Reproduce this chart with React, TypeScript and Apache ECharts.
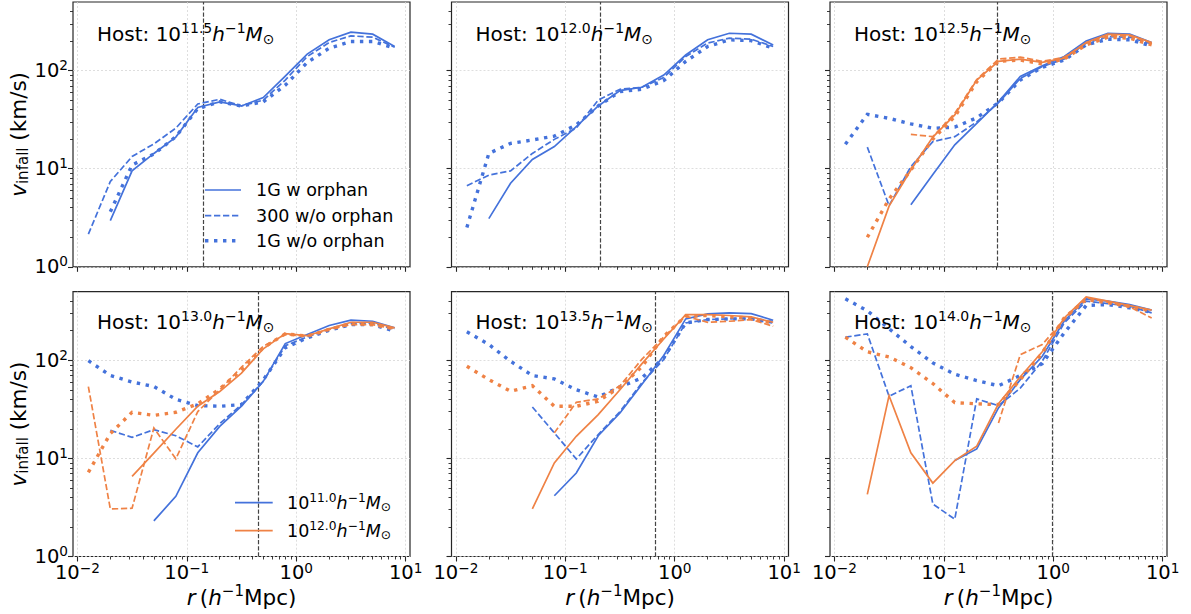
import React, { useEffect, useRef } from 'react';
import * as echarts from 'echarts';

// ---------------- data ----------------
// radial bins (h^-1 Mpc)
const R = [0.0126, 0.02, 0.0316, 0.05, 0.0794, 0.126, 0.2, 0.316, 0.5, 0.794, 1.26, 2.0, 3.16, 5.0, 7.94];

const hostMasses = ['11.5', '12.0', '12.5', '13.0', '13.5', '14.0'];
const rVir = [0.142, 0.208, 0.306, 0.452, 0.665, 0.98];

const XTICKS = [0.01, 0.1, 1, 10];
const YTICKS = [1, 10, 100];

// Host 10^11.5 (sub-halo bin 10^11.0 only)
const h115_b_1Gw = [null, 2.95, 9.5, 14.3, 21, 42, 48, 43.6, 53, 88, 147, 206, 246, 235, 176];
const h115_b_300wo = [2.15, 7.4, 13.3, 17.9, 25.9, 45.7, 51, 43.6, 50, 80, 139, 193, 226, 219, 173];
const h115_b_1Gwo = [null, 3.64, 10.9, 14.1, 21.2, 41, 48, 43.6, 48, 71, 121, 169, 198, 198, 169];

// Host 10^12.0
const h120_b_1Gw = [null, 3.1, 7.1, 12.4, 16.8, 26.8, 43.6, 62.5, 67.6, 90, 144, 206, 240, 235, 182];
const h120_b_300wo = [6.7, 8.6, 9.5, 14.3, 19.9, 25.9, 50, 64.5, 67.6, 85, 139, 191, 214, 209, 176];
const h120_b_1Gwo = [2.52, 14.3, 18.1, 19.6, 21.5, 27.9, 43.6, 61, 64.5, 79, 124, 176, 206, 202, 169];

// Host 10^12.5
const h125_b_1Gw = [null, null, null, 4.3, 8.7, 17.5, 29, 48, 87, 112, 139, 200, 240, 235, 193];
const h125_b_300wo = [null, 16.6, 4.2, 10.5, 18.9, 21.2, 30, 47, 83, 110, 131, 191, 222, 219, 187];
const h125_b_1Gwo = [17.7, 35.8, 32.6, 28.6, 25.8, 26.5, 33, 47, 80, 108, 128, 183, 209, 206, 178];
const h125_o_1Gw = [null, 1.0, 4.15, 9.7, 21, 35.3, 80, 124, 131, 121, 134, 193, 235, 231, 193];
const h125_o_300wo = [null, null, null, 22.4, 21.2, 36.7, 81, 131, 137, 124, 137, 191, 226, 226, 191];
const h125_o_1Gwo = [null, 2.0, 4.9, 9.7, 20, 34, 77, 124, 128, 117, 131, 183, 219, 214, 183];

// Host 10^13.0
const h130_b_1Gw = [null, null, null, 2.31, 4.1, 11.4, 21.2, 34, 61, 148, 183, 226, 256, 250, 214];
const h130_b_300wo = [null, 19.3, 16.4, 19.6, 17, 13.1, 22.6, 35.3, 61, 141, 173, 209, 237, 240, 206];
const h130_b_1Gwo = [99, 70, 60, 54, 40, 34.5, 34, 35.3, 63, 134, 169, 202, 231, 231, 198];
const h130_o_1Gw = [null, null, 6.55, 11.3, 19.8, 34, 48, 74, 131, 187, 178, 209, 244, 244, 214];
const h130_o_300wo = [54, 3.05, 3.1, 20.4, 9.9, 30, 50, 85, 139, 183, 176, 206, 231, 231, 209];
const h130_o_1Gwo = [7.2, 17.9, 29.5, 27.4, 29.5, 36, 51, 80, 134, 186, 176, 206, 237, 231, 209];

// Host 10^13.5
const h135_b_1Gw = [null, null, null, null, 4.16, 7.1, 17, 29, 56.5, 112, 264, 297, 304, 299, 256];
const h135_b_300wo = [null, null, null, 33.4, 18.2, 9.86, 17.5, 30, 58.7, 102, 240, 260, 264, 270, 244];
const h135_b_1Gwo = [195, 145, 97.7, 70, 64.6, 50, 42.3, 53.5, 66, 106, 240, 260, 264, 264, 244];
const h135_o_1Gw = [null, null, null, 3.05, 9.0, 16.8, 27.9, 50, 92, 165, 292, 292, 286, 277, 244];
const h135_o_300wo = [null, null, null, null, 18.2, 37.3, 40.4, 55, 102, 173, 281, 244, 250, 260, 222];
const h135_o_1Gwo = [86.9, 63.5, 48.3, 55, 34, 34, 38.2, 53.5, 85.5, 176, 281, 286, 277, 270, 237];

// Host 10^14.0
const h140_b_1Gw = [null, null, null, null, null, 9.5, 12.5, 32.7, 63.5, 110, 251, 423, 400, 370, 324];
const h140_b_300wo = [172, 186, 43, 55, 3.43, 2.4, 40.4, 34.5, 52, 98, 240, 400, 378, 355, 304];
const h140_b_1Gwo = [423, 320, 210, 138, 94, 72, 62, 55, 70, 92.5, 190, 361, 370, 342, 309];
const h140_o_1Gw = [null, 4.3, 43.6, 11.4, 5.6, 9.5, 13.3, 36, 68, 122, 270, 443, 400, 361, 324];
const h140_o_300wo = [null, null, null, null, null, null, null, 23, 114, 145, 260, 433, 391, 350, 270];
const h140_o_1Gwo = [172, 122, 108, 84, 58, 37, 36, 35.3, 63.5, 119, 270, 416, 385, 355, 316];

// ---------------- styles ----------------
const BLUE = '#4472db';
const ORANGE = '#ef8245';
const INK = '#262626';
const F = "'DejaVu Sans', sans-serif";

const LS: Record<string, { width: number; type: any }> = {
  solid: { width: 1.7, type: 'solid' },
  dashed: { width: 1.7, type: [6.3, 2.7] },
  dotted: { width: 3.4, type: [3.4, 5.6] },
};

type Line = { vals: (number | null)[]; color: string; style: string };
const mk = (b1: any, b2: any, b3: any, o1?: any, o2?: any, o3?: any): Line[] => {
  const out: Line[] = [
    { vals: b1, color: BLUE, style: 'solid' },
    { vals: b2, color: BLUE, style: 'dashed' },
    { vals: b3, color: BLUE, style: 'dotted' },
  ];
  if (o1) {
    out.push({ vals: o1, color: ORANGE, style: 'solid' });
    out.push({ vals: o2, color: ORANGE, style: 'dashed' });
    out.push({ vals: o3, color: ORANGE, style: 'dotted' });
  }
  return out;
};

const panelLines: Line[][] = [
  mk(h115_b_1Gw, h115_b_300wo, h115_b_1Gwo),
  mk(h120_b_1Gw, h120_b_300wo, h120_b_1Gwo),
  mk(h125_b_1Gw, h125_b_300wo, h125_b_1Gwo, h125_o_1Gw, h125_o_300wo, h125_o_1Gwo),
  mk(h130_b_1Gw, h130_b_300wo, h130_b_1Gwo, h130_o_1Gw, h130_o_300wo, h130_o_1Gwo),
  mk(h135_b_1Gw, h135_b_300wo, h135_b_1Gwo, h135_o_1Gw, h135_o_300wo, h135_o_1Gwo),
  mk(h140_b_1Gw, h140_b_300wo, h140_b_1Gwo, h140_o_1Gw, h140_o_300wo, h140_o_1Gwo),
];

// ---------------- layout ----------------
const GRID_LEFT = [73, 451.5, 830];
const GRID_TOP = [2, 291.7];
const GW = 337;
const GH = 264.8;
const XMIN = 0.00912;
const XMAX = 10.96;
const YMIN = 1;
const YMAX = 500;

const TICK_FS = 19.5;
const NAME_FS = 21.5;
const HOST_FS = 20;
const LEG_FS = 17.5;

const MINUS = '\u2212';
const supStr = (e: number) => (e < 0 ? MINUS + -e : String(e));
const tickFmt = (v: number) => {
  const l = Math.log10(v);
  const e = Math.round(l);
  if (Math.abs(l - e) > 1e-6) return '';
  return `{b|10}{s|${supStr(e)}}`;
};
const tickRich = {
  b: { fontSize: TICK_FS, fontFamily: F, color: '#000', verticalAlign: 'middle' },
  s: { fontSize: TICK_FS * 0.7, fontFamily: F, color: '#000', padding: [0, 0, TICK_FS * 0.56, 0], verticalAlign: 'middle' },
};
const nameRich = {
  n: { fontSize: NAME_FS, fontFamily: F, color: '#000', verticalAlign: 'middle' },
  i: { fontSize: NAME_FS, fontFamily: F, fontStyle: 'italic', color: '#000', verticalAlign: 'middle' },
  s: { fontSize: NAME_FS * 0.7, fontFamily: F, color: '#000', padding: [0, 0, NAME_FS * 0.56, 0], verticalAlign: 'middle' },
  u: { fontSize: NAME_FS * 0.7, fontFamily: F, color: '#000', padding: [NAME_FS * 0.45, 0, 0, 0], verticalAlign: 'middle' },
};
const GRIDLINE = { color: '#d5d5d5', width: 0.8, type: [2, 2] };

const richTxt = (size: number) => ({
  n: { fontSize: size, fontFamily: F, fill: '#000', color: '#000', verticalAlign: 'middle' },
  i: { fontSize: size, fontFamily: F, fontStyle: 'italic', fill: '#000', color: '#000', verticalAlign: 'middle' },
  s: { fontSize: size * 0.7, fontFamily: F, fill: '#000', color: '#000', padding: [0, 0, size * 0.58, 0], verticalAlign: 'middle' },
  o: { fontSize: size * 0.7, fontFamily: F, fill: '#000', color: '#000', padding: [size * 0.5, 0, 0, 0], verticalAlign: 'middle' },
});

function buildOption() {
  const grids: any[] = [];
  const xAxes: any[] = [];
  const yAxes: any[] = [];
  const series: any[] = [];
  const graphic: any[] = [];

  panelLines.forEach((lines, i) => {
    const row = Math.floor(i / 3);
    const col = i % 3;
    grids.push({
      left: GRID_LEFT[col], top: GRID_TOP[row], width: GW, height: GH,
      show: true, borderColor: INK, borderWidth: 1.2, backgroundColor: 'transparent',
    });
    xAxes.push({
      type: 'log', logBase: 10, gridIndex: i, min: XMIN, max: XMAX,
      axisLine: { show: false },
      axisTick: { show: true, length: 5, lineStyle: { color: INK, width: 1.1 }, customValues: XTICKS },
      minorTick: { show: true, splitNumber: 9, length: 3, lineStyle: { color: INK, width: 0.9 } },
      splitLine: { show: true, lineStyle: GRIDLINE },
      axisLabel: { show: row === 1, customValues: XTICKS, formatter: tickFmt, rich: tickRich, margin: 4 },
      name: row === 1 ? `{i|r}{n|\u2009(}{i|h}{s|${MINUS}1}{n|Mpc)}` : '',
      nameLocation: 'middle', nameGap: 26,
      nameTextStyle: { rich: nameRich, fontFamily: F, fontSize: NAME_FS, color: '#000' },
    });
    yAxes.push({
      type: 'log', logBase: 10, gridIndex: i, min: YMIN, max: YMAX,
      axisLine: { show: false },
      axisTick: { show: true, length: 5, lineStyle: { color: INK, width: 1.1 }, customValues: YTICKS },
      minorTick: { show: true, splitNumber: 9, length: 3, lineStyle: { color: INK, width: 0.9 } },
      splitLine: { show: true, lineStyle: GRIDLINE },
      axisLabel: { show: col === 0, customValues: YTICKS, formatter: tickFmt, rich: tickRich, margin: 5 },
      name: col === 0 ? `{i|v}{u|infall}{n| (km/s)}` : '',
      nameLocation: 'middle', nameGap: 39,
      nameTextStyle: { rich: nameRich, fontFamily: F, fontSize: NAME_FS, color: '#000' },
    });

    lines.forEach((ln, k) => {
      const data: number[][] = [];
      ln.vals.forEach((v, j) => {
        if (v != null) data.push([R[j], v]);
      });
      const st = LS[ln.style];
      const s: any = {
        type: 'line', xAxisIndex: i, yAxisIndex: i, data,
        symbol: 'none', showSymbol: false, silent: true, clip: true,
        lineStyle: { color: ln.color, width: st.width, type: st.type, cap: 'butt', join: 'miter' },
        z: 3 + k,
      };
      if (k === 0) {
        s.markLine = {
          silent: true, symbol: 'none', label: { show: false },
          lineStyle: { color: '#444', width: 1.2, type: [4.2, 1.9] },
          data: [{ xAxis: rVir[i] }],
          z: 2,
        };
      }
      series.push(s);
    });

    graphic.push({
      type: 'text', x: GRID_LEFT[col] + 24, y: row === 0 ? 34 : 322, silent: true, z: 100,
      style: {
        text: `{n|Host: 10}{s|${hostMasses[i]}}{i|h}{s|${MINUS}1}{i|M}{o|\u2299}`,
        rich: richTxt(HOST_FS), align: 'left', textAlign: 'left', verticalAlign: 'middle', textVerticalAlign: 'middle',
      },
    });
  });

  // legend, panel 1 (line styles)
  const leg1 = [
    { style: 'solid', label: '1G w orphan', y: 190 },
    { style: 'dashed', label: '300 w/o orphan', y: 215.7 },
    { style: 'dotted', label: '1G w/o orphan', y: 240.7 },
  ];
  leg1.forEach((l) => {
    const st = LS[l.style];
    graphic.push({
      type: 'line', silent: true, z: 100,
      shape: { x1: 205, y1: l.y, x2: 241, y2: l.y },
      style: { stroke: BLUE, lineWidth: st.width, lineDash: Array.isArray(st.type) ? st.type : null, lineCap: 'butt' },
    });
    graphic.push({
      type: 'text', x: 256, y: l.y, silent: true, z: 100,
      style: { text: l.label, fontSize: LEG_FS, fontFamily: F, fill: '#000', align: 'left', verticalAlign: 'middle', textAlign: 'left', textVerticalAlign: 'middle' },
    });
  });
  // legend, panel 4 (sub-halo masses)
  const leg2 = [
    { color: BLUE, m: '11.0', y: 502.7 },
    { color: ORANGE, m: '12.0', y: 530.7 },
  ];
  leg2.forEach((l) => {
    graphic.push({
      type: 'line', silent: true, z: 100,
      shape: { x1: 235, y1: l.y, x2: 272.7, y2: l.y },
      style: { stroke: l.color, lineWidth: 1.7 },
    });
    graphic.push({
      type: 'text', x: 287, y: l.y, silent: true, z: 100,
      style: {
        text: `{n|10}{s|${l.m}}{i|h}{s|${MINUS}1}{i|M}{o|\u2299}`,
        rich: richTxt(LEG_FS), align: 'left', textAlign: 'left', verticalAlign: 'middle', textVerticalAlign: 'middle',
      },
    });
  });

  return {
    animation: false,
    backgroundColor: '#fff',
    grid: grids,
    xAxis: xAxes,
    yAxis: yAxes,
    series,
    graphic,
  };
}

export default function App() {
  const ref = useRef<HTMLDivElement>(null);
  useEffect(() => {
    const chart = echarts.init(ref.current!, null, { renderer: 'svg' });
    chart.setOption(buildOption() as any);
    return () => chart.dispose();
  }, []);
  return (
    <div
      ref={ref}
      style={{ position: 'fixed', left: 0, top: 0, width: 1191, height: 614, background: '#fff' }}
    />
  );
}
